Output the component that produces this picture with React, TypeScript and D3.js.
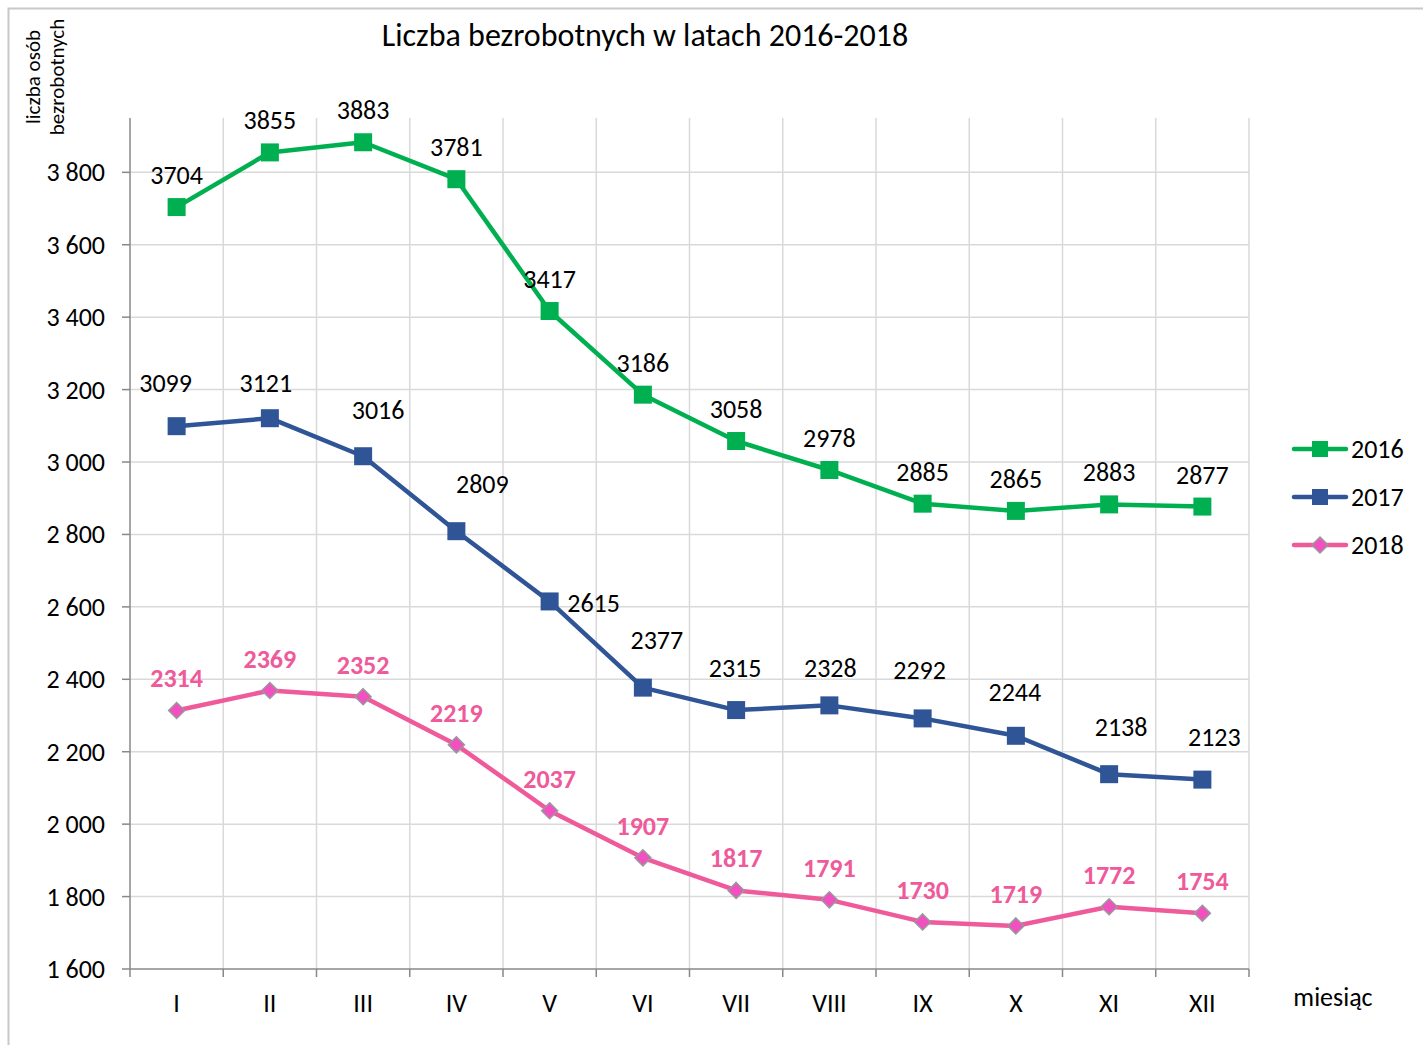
import React from 'react';
import * as d3 from 'd3';

const months = ['I', 'II', 'III', 'IV', 'V', 'VI', 'VII', 'VIII', 'IX', 'X', 'XI', 'XII'];
const values2016 = [3704, 3855, 3883, 3781, 3417, 3186, 3058, 2978, 2885, 2865, 2883, 2877];
const values2017 = [3099, 3121, 3016, 2809, 2615, 2377, 2315, 2328, 2292, 2244, 2138, 2123];
const values2018 = [2314, 2369, 2352, 2219, 2037, 1907, 1817, 1791, 1730, 1719, 1772, 1754];
const yTicks = [1600, 1800, 2000, 2200, 2400, 2600, 2800, 3000, 3200, 3400, 3600, 3800];

// label placement tweaks for the 2017 series (dx, dy from the point)
const labelDx2017 = [-11, -4, 15, 26, 44, 14, -1, 1, -3, -1, 12, 12];
const labelDy2017 = [-43, -35, -46, -47, 2, -48, -42, -37, -48, -44, -47, -43];

const W = 1423;
const H = 1045;
const left = 130, right = 1249, top = 118, bottom = 969;
const FONT = 'Carlito, Lato, "Open Sans", sans-serif';
const FS = 26;

const green = '#00B050';
const blue = '#2F5597';
const pink = '#EE5A9A';

export default function App() {
  const x = d3.scaleBand<string>().domain(months).range([left, right]);
  const y = d3.scaleLinear().domain([1600, 3950]).range([bottom, top]);
  const cx = (i: number) => (x(months[i]) as number) + x.bandwidth() / 2;

  const line = d3.line<number>().x((_, i) => cx(i)).y(d => y(d));
  const fmt = (v: number) => d3.format(',')(v).replace(',', ' ');

  const series = [
    { name: '2016', values: values2016, color: green, marker: 'square' },
    { name: '2017', values: values2017, color: blue, marker: 'square' },
    { name: '2018', values: values2018, color: pink, marker: 'diamond' },
  ];

  const marker = (kind: string, color: string, px: number, py: number, key: string) =>
    kind === 'square' ? (
      <rect key={key} x={px - 9} y={py - 9} width={18} height={18} fill={color} />
    ) : (
      <path key={key} d={`M${px},${py - 8}L${px + 8},${py}L${px},${py + 8}L${px - 8},${py}Z`}
        fill="#F250C0" stroke="#999" strokeWidth={1.5} />
    );

  const bandEdges = months.map(m => x(m) as number).concat([right]);

  return (
    <svg width={W} height={H} style={{ position: 'absolute', left: 0, top: 0, background: '#fff' }}
      fontFamily={FONT}>
      <rect x={8.5} y={8.5} width={W} height={H} fill="#fff" stroke="#c8c8c8" strokeWidth={2} />

      <text x={645} y={46} textAnchor="middle" fontSize={32} fill="#000">
        Liczba bezrobotnych w latach 2016-2018
      </text>

      <g transform="translate(40,77) rotate(-90)" fontSize={21} textAnchor="middle">
        <text x={0} y={0}>liczba osób</text>
        <text x={0} y={24}>bezrobotnych</text>
      </g>

      {/* gridlines */}
      {yTicks.slice(1).map(t => (
        <line key={'h' + t} x1={left} x2={right} y1={y(t)} y2={y(t)} stroke="#d9d9d9" strokeWidth={1.5} />
      ))}
      {bandEdges.slice(1).map((e, i) => (
        <line key={'v' + i} x1={e} x2={e} y1={top} y2={bottom} stroke="#d9d9d9" strokeWidth={1.5} />
      ))}

      {/* axes */}
      <line x1={left} x2={left} y1={top} y2={bottom} stroke="#888" strokeWidth={1.5} />
      <line x1={left} x2={right} y1={bottom} y2={bottom} stroke="#888" strokeWidth={1.5} />
      {yTicks.map(t => (
        <g key={'yt' + t}>
          <line x1={left - 8} x2={left} y1={y(t)} y2={y(t)} stroke="#888" strokeWidth={1.5} />
          <text x={105} y={y(t) + 9} textAnchor="end" fontSize={FS}>{fmt(t)}</text>
        </g>
      ))}
      {bandEdges.map((e, i) => (
        <line key={'xt' + i} x1={e} x2={e} y1={bottom} y2={bottom + 8} stroke="#888" strokeWidth={1.5} />
      ))}
      {months.map((m, i) => (
        <text key={'xl' + m} x={cx(i)} y={1012} textAnchor="middle" fontSize={FS}>{m}</text>
      ))}
      <text x={1333} y={1006} textAnchor="middle" fontSize={FS}>miesiąc</text>

      {/* lines and markers */}
      {series.map(s => (
        <g key={s.name}>
          <path d={line(s.values) as string} fill="none" stroke={s.color} strokeWidth={4.5} strokeLinejoin="round" />
          {s.values.map((v, i) => marker(s.marker, s.color, cx(i), y(v), s.name + i))}
        </g>
      ))}

      {/* data labels */}
      {values2016.map((v, i) => (
        <text key={'l16' + i} x={cx(i)} y={y(v) - 23} textAnchor="middle" fontSize={FS}>{v}</text>
      ))}
      {values2017.map((v, i) => (
        <text key={'l17' + i} x={cx(i) + labelDx2017[i]} y={y(v) + labelDy2017[i] + 9}
          textAnchor="middle" fontSize={FS}>{v}</text>
      ))}
      {values2018.map((v, i) => (
        <text key={'l18' + i} x={cx(i)} y={y(v) - 23} textAnchor="middle" fontSize={FS}
          fontWeight="bold" fill={pink}>{v}</text>
      ))}

      {/* legend */}
      {series.map((s, i) => {
        const ly = 449 + i * 48;
        return (
          <g key={'lg' + s.name}>
            <line x1={1294} x2={1346} y1={ly} y2={ly} stroke={s.color} strokeWidth={4.5} strokeLinecap="round" />
            {s.marker === 'square' ? (
              <rect x={1312} y={ly - 8} width={16} height={16} fill={s.color} />
            ) : (
              <path d={`M1320,${ly - 8}L1328,${ly}L1320,${ly + 8}L1312,${ly}Z`} fill="#F250C0" stroke="#999" strokeWidth={1.5} />
            )}
            <text x={1351} y={ly + 9} fontSize={FS}>{s.name}</text>
          </g>
        );
      })}
    </svg>
  );
}
